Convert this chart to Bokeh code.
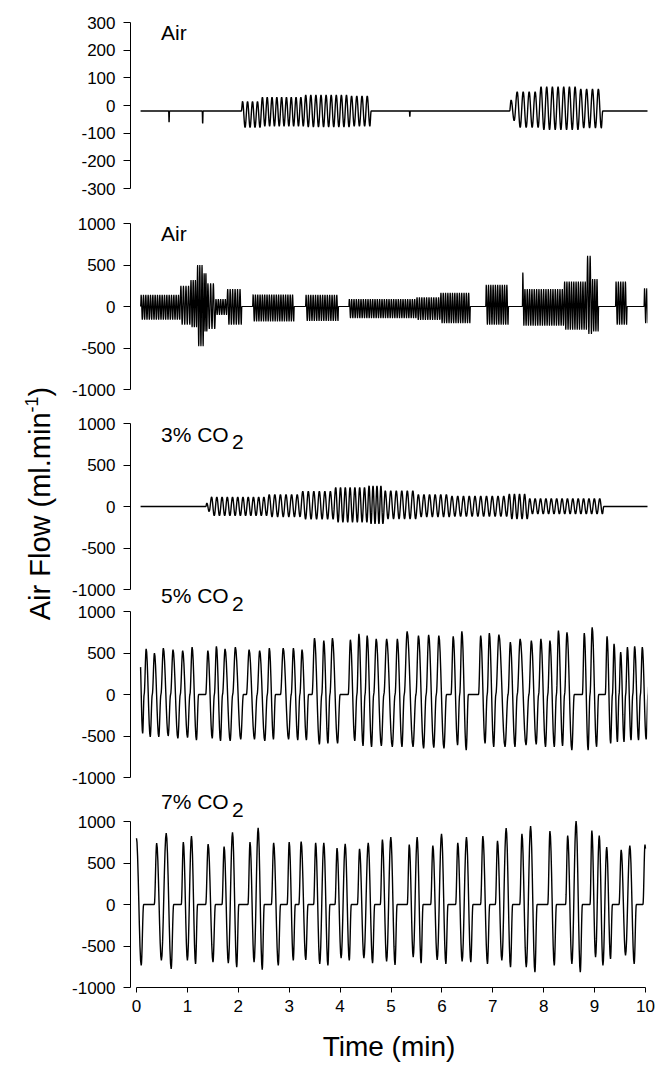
import numpy as np
from bokeh.plotting import figure
from bokeh.models import Range1d, FixedTicker, Label
from bokeh.layouts import column, row
from bokeh.embed import file_html
from bokeh.resources import INLINE
from bokeh.core.properties import value

FONT = "Liberation Sans"

# ---------------- data ----------------
x_ticks = list(range(11))
p1_ticks = [-300, -200, -100, 0, 100, 200, 300]
flow_ticks = [-1000, -500, 0, 500, 1000]

panel_labels = ["Air", "Air", "3% CO", "5% CO", "7% CO"]
panel_subs = ["", "", "2", "2", "2"]

# Panel 1 (Air) : bouts of breathing on a baseline, time in min, flow in ml/min
p1_span = (0.08, 10.06)
p1_base = -20
p1_seg_start = [2.06, 2.45, 3.30, 4.20, 7.33, 7.45, 7.92, 8.70]
p1_seg_end = [2.45, 3.30, 4.20, 4.61, 7.45, 7.92, 8.70, 9.16]
p1_seg_n = [4, 9, 9, 4, 1, 4, 7, 4]
p1_seg_peak = [15, 30, 38, 35, 20, 50, 68, 60]
p1_seg_trough = [-80, -75, -78, -75, -55, -80, -88, -82]
p1_spike_t = [0.64, 1.30, 5.37]
p1_spike_v = [-60, -65, -40]

# Panel 2 (Air)
p2_span = (0.08, 10.06)
p2_base = 0
p2_seg_start = [0.08, 0.86, 1.06, 1.19, 1.32, 1.39, 1.55, 1.78, 2.28, 3.32, 4.17, 5.50,
                5.97, 6.86, 7.58, 7.62, 8.40, 8.85, 8.95, 9.41, 9.97]
p2_seg_end = [0.86, 1.06, 1.19, 1.32, 1.39, 1.55, 1.78, 2.07, 3.10, 3.97, 5.50, 5.97,
              6.56, 7.31, 7.62, 8.40, 8.85, 8.95, 9.08, 9.64, 10.06]
p2_seg_n = [17, 4, 3, 3, 2, 3, 5, 6, 18, 14, 29, 10, 13, 10, 1, 17, 10, 2, 3, 5, 2]
p2_seg_peak = [140, 250, 320, 500, 400, 280, 90, 210, 145, 140, 90, 110, 165, 260, 410,
               210, 300, 610, 330, 300, 220]
p2_seg_trough = [-160, -220, -250, -480, -300, -270, -100, -220, -180, -175, -140, -160,
                 -200, -220, -230, -230, -280, -330, -300, -220, -200]

# Panel 3 (3% CO2)
p3_span = (0.08, 10.06)
p3_base = 0
p3_seg_start = [1.36, 1.45, 2.58, 3.24, 3.89, 4.55, 4.86, 5.51, 6.17, 7.30, 7.70]
p3_seg_end = [1.45, 2.58, 3.24, 3.89, 4.55, 4.86, 5.51, 6.17, 7.30, 7.70, 9.18]
p3_seg_n = [1, 11, 6, 6, 7, 4, 6, 6, 10, 4, 14]
p3_seg_peak = [40, 115, 145, 185, 230, 250, 190, 145, 125, 150, 95]
p3_seg_trough = [-60, -112, -125, -153, -190, -210, -150, -125, -120, -150, -90]

# Panel 4 (5% CO2): one row per breath
p4_span = (0.08, 10.06)
p4_base = 0
p4_seg_start = [0.033, 0.15, 0.31, 0.48, 0.67, 0.86, 1.05, 1.36, 1.53, 1.69, 1.89, 2.16,
                2.37, 2.57, 2.83, 3.04, 3.21, 3.45, 3.64, 3.80, 4.16, 4.33, 4.49, 4.66,
                4.86, 5.08, 5.26, 5.49, 5.69, 5.89, 6.18, 6.35, 6.72, 6.89, 7.06, 7.30,
                7.48, 7.71, 7.90, 8.08, 8.25, 8.41, 8.76, 8.91, 9.21, 9.35, 9.48, 9.61,
                9.75, 9.90, 10.05]
p4_seg_end = [0.15, 0.31, 0.48, 0.67, 0.86, 1.05, 1.22, 1.53, 1.69, 1.89, 2.10, 2.37,
              2.57, 2.73, 3.04, 3.21, 3.38, 3.64, 3.80, 4.00, 4.33, 4.49, 4.66, 4.86,
              5.08, 5.26, 5.49, 5.69, 5.89, 6.09, 6.35, 6.52, 6.89, 7.06, 7.30, 7.48,
              7.71, 7.90, 8.08, 8.25, 8.41, 8.60, 8.91, 9.08, 9.35, 9.48, 9.61, 9.75,
              9.90, 10.05, 10.20]
p4_seg_peak = [550, 550, 500, 560, 540, 530, 570, 530, 580, 550, 570, 540, 530, 560, 560,
               560, 540, 680, 650, 680, 660, 730, 710, 670, 670, 670, 760, 710, 720, 710,
               700, 760, 710, 740, 720, 630, 670, 650, 670, 650, 770, 750, 740, 810, 700,
               610, 510, 570, 580, 570, 560]
p4_seg_trough = [-470, -510, -510, -500, -530, -520, -550, -530, -560, -560, -540, -540,
                 -560, -540, -540, -550, -550, -600, -590, -590, -560, -620, -630, -620,
                 -630, -630, -630, -650, -640, -650, -610, -670, -590, -630, -630, -630,
                 -610, -600, -630, -630, -620, -670, -670, -630, -590, -570, -570, -550,
                 -550, -540, -540]

# Panel 5 (7% CO2): one row per breath
p5_span = (0.0, 10.0)
p5_base = 0
p5_seg_start = [-0.05, 0.35, 0.535, 0.88, 1.04, 1.36, 1.68, 1.845, 2.19, 2.35, 2.65, 2.96,
                3.19, 3.48, 3.64, 3.90, 4.06, 4.34, 4.51, 4.79, 4.955, 5.32, 5.475, 5.78,
                5.95, 6.27, 6.44, 6.76, 7.05, 7.22, 7.53, 7.70, 8.08, 8.43, 8.595, 8.91,
                9.055, 9.20, 9.48, 9.65, 9.95]
p5_seg_end = [0.14, 0.535, 0.73, 1.04, 1.20, 1.55, 1.845, 2.01, 2.35, 2.51, 2.83, 3.12,
              3.37, 3.64, 3.80, 4.06, 4.22, 4.51, 4.68, 4.955, 5.12, 5.475, 5.63, 5.95,
              6.12, 6.44, 6.61, 6.94, 7.22, 7.39, 7.70, 7.87, 8.25, 8.595, 8.76, 9.055,
              9.20, 9.35, 9.65, 9.82, 10.11]
p5_seg_peak = [811, 739, 859, 751, 823, 727, 699, 871, 751, 924, 743, 751, 759, 743, 743,
               679, 731, 671, 743, 783, 811, 723, 811, 711, 851, 743, 811, 823, 767, 920,
               851, 944, 884, 831, 1004, 892, 831, 691, 659, 711, 723]
p5_seg_trough = [-735, -675, -775, -675, -715, -695, -707, -755, -695, -785, -735, -675,
                 -667, -715, -735, -647, -675, -647, -707, -687, -727, -635, -707, -667,
                 -715, -687, -695, -715, -675, -755, -755, -815, -735, -715, -815, -635,
                 -735, -655, -614, -715, -600]


# ---------------- build traces from the breath tables ----------------
def build_trace(span, base, s, e, pk, tr, n=None, shoulder=False, spk_t=(), spk_v=()):
    t0, t1 = span
    if n is None:
        n = [1] * len(s)
    keys = []
    if s[0] > t0:
        keys.append((t0, base))
    for i in range(len(s)):
        T = (e[i] - s[i]) / n[i]
        cont_prev = i > 0 and abs(s[i] - e[i - 1]) < 1e-9
        if not cont_prev:
            keys.append((s[i], base))
        for j in range(n[i]):
            c = s[i] + j * T
            if j > 0 and shoulder:
                keys.append((c, base))
            keys.append((c + T / 4, pk[i]))
            keys.append((c + 3 * T / 4, tr[i]))
        cont_next = i + 1 < len(s) and abs(s[i + 1] - e[i]) < 1e-9
        if (not cont_next) or shoulder:
            keys.append((e[i], base))
    for ts, vv in zip(spk_t, spk_v):
        keys += [(ts - 0.008, base), (ts, vv), (ts + 0.008, base)]
    if e[-1] < t1:
        keys.append((t1, base))
    keys = sorted(keys, key=lambda q: q[0])
    tt, vs = [], []
    for (ta, va), (tb, vb) in zip(keys[:-1], keys[1:]):
        if tb <= ta:
            continue
        u = np.linspace(0, 1, 8, endpoint=False)
        tt.append(ta + (tb - ta) * u)
        vs.append(va + (vb - va) * (1 - np.cos(np.pi * u)) / 2)
    tt.append([keys[-1][0]])
    vs.append([keys[-1][1]])
    t = np.concatenate(tt)
    v = np.concatenate(vs)
    m = (t > t0) & (t < t1)
    return np.r_[t0, t[m], t1], np.r_[np.interp(t0, t, v), v[m], np.interp(t1, t, v)]


traces = [
    build_trace(p1_span, p1_base, p1_seg_start, p1_seg_end, p1_seg_peak, p1_seg_trough,
                n=p1_seg_n, spk_t=p1_spike_t, spk_v=p1_spike_v),
    build_trace(p2_span, p2_base, p2_seg_start, p2_seg_end, p2_seg_peak, p2_seg_trough, n=p2_seg_n),
    build_trace(p3_span, p3_base, p3_seg_start, p3_seg_end, p3_seg_peak, p3_seg_trough, n=p3_seg_n),
    build_trace(p4_span, p4_base, p4_seg_start, p4_seg_end, p4_seg_peak, p4_seg_trough, shoulder=True),
    build_trace(p5_span, p5_base, p5_seg_start, p5_seg_end, p5_seg_peak, p5_seg_trough),
]

# ---------------- layout ----------------
PX_PER_MIN = 50.9
FRAME_LEFT_OFF = 6.0      # y axis sits 6 px left of t=0
FRAME_W = 517
XS = -FRAME_LEFT_OFF / PX_PER_MIN
XE = XS + FRAME_W / PX_PER_MIN
TITLE_W = 68
PANEL_W = 589

s1 = 166 / 600.0
s = 166 / 2000.0
# (canvas height, y-range start, y-range end, ticks, bounds, label y, sub y, margin top, line width)
specs = [
    (206, -300 - 18 / s1, 300 + 22 / s1, p1_ticks, (-300, 300), 263.9, None, 0, 1.4),
    (200, -1000 - 17 / s, 1000 + 17 / s, flow_ticks, (-1000, 1000), 885, None, 0, 1.2),
    (192, -1000 - 9 / s, 1000 + 17 / s, flow_ticks, (-1000, 1000), 873, 782, 0, 1.4),
    (212, -1000 - 19 / s, 1000 + 27 / s, flow_ticks, (-1000, 1000), 1187, 1095, -14, 1.4),
    (276, -1000, 1000 + 32 / s, flow_ticks, (-1000, 1000), 1235, 1143, -7, 1.4),
]

figs = []
for k, (h, y0, y1, ticks, bnds, ly, sy, mt, lw) in enumerate(specs):
    bottom = (k == 4)
    kw = dict(width=PANEL_W, height=h, x_range=Range1d(XS, XE), y_range=Range1d(y0, y1),
              output_backend="svg", toolbar_location=None,
              min_border_left=62, min_border_right=10, min_border_top=0,
              min_border_bottom=78 if bottom else 0)
    if not bottom:
        kw["x_axis_type"] = None
    p = figure(**kw)
    p.grid.visible = False
    p.outline_line_color = None
    p.background_fill_color = None
    p.border_fill_color = None
    if mt:
        p.margin = (mt, 0, 0, 0)

    ya = p.yaxis[0]
    ya.ticker = FixedTicker(ticks=ticks)
    ya.bounds = bnds
    ya.major_label_overrides = {t: str(t) for t in ticks}
    ya.major_tick_out = 7
    ya.major_tick_in = 0
    ya.minor_tick_line_color = None
    ya.axis_line_color = "black"
    ya.major_tick_line_color = "black"
    ya.major_label_text_color = "black"
    ya.major_label_text_font = FONT
    ya.major_label_text_font_size = "17px"
    ya.major_label_standoff = 8

    if bottom:
        xa = p.xaxis[0]
        xa.ticker = FixedTicker(ticks=x_ticks)
        xa.bounds = (0, 10)
        xa.major_tick_out = 5
        xa.major_tick_in = 0
        xa.minor_tick_line_color = None
        xa.axis_line_color = "black"
        xa.major_tick_line_color = "black"
        xa.major_label_text_color = "black"
        xa.major_label_text_font = FONT
        xa.major_label_text_font_size = "17px"
        xa.major_label_standoff = 7
        xa.axis_label = "Time (min)"
        xa.axis_label_text_font = FONT
        xa.axis_label_text_font_size = "28px"
        xa.axis_label_text_font_style = "normal"
        xa.axis_label_text_color = "black"
        xa.axis_label_standoff = 16

    t, v = traces[k]
    p.line(t, v, line_color="black", line_width=lw)

    p.text(x=[0.481], y=[ly], text=[panel_labels[k]], text_font=value(FONT),
           text_font_size="21px", text_align="left", text_baseline="middle",
           text_color="black")
    if sy is not None:
        p.text(x=[0.481], y=[sy], text=[panel_subs[k]], x_offset=71, text_font=value(FONT),
               text_font_size="21px", text_align="left", text_baseline="middle",
               text_color="black")
    figs.append(p)

# y-axis title in a narrow figure on the left
TH = 1060
tf = figure(width=TITLE_W, height=TH, x_range=Range1d(0, TITLE_W), y_range=Range1d(0, TH),
            output_backend="svg", toolbar_location=None, min_border=0,
            x_axis_type=None, y_axis_type=None)
tf.grid.visible = False
tf.outline_line_color = None
tf.background_fill_color = None
tf.border_fill_color = None
tf.scatter([0], [0], size=0, alpha=0)

fs_main = 29
w_main = 7.166 * fs_main
w_sup = 0.889 * 18
w_total = w_main + w_sup + 0.333 * fs_main
center_page_y = 503
bottom_page_y = center_page_y + w_total / 2
mid_x = 39


def ty(page_y):
    return TH - page_y


tf.add_layout(Label(x=mid_x, y=ty(bottom_page_y), text="Air Flow (ml.min", angle=np.pi / 2,
                    text_font=FONT, text_font_size=f"{fs_main}px", text_align="left",
                    text_baseline="middle", text_color="black"))
tf.add_layout(Label(x=mid_x - 8, y=ty(bottom_page_y - w_main), text="-1", angle=np.pi / 2,
                    text_font=FONT, text_font_size="18px", text_align="left",
                    text_baseline="middle", text_color="black"))
tf.add_layout(Label(x=mid_x, y=ty(bottom_page_y - w_main - w_sup), text=")", angle=np.pi / 2,
                    text_font=FONT, text_font_size=f"{fs_main}px", text_align="left",
                    text_baseline="middle", text_color="black"))

layout = row(tf, column(*figs))
open("out.html", "w").write(file_html(layout, INLINE))
